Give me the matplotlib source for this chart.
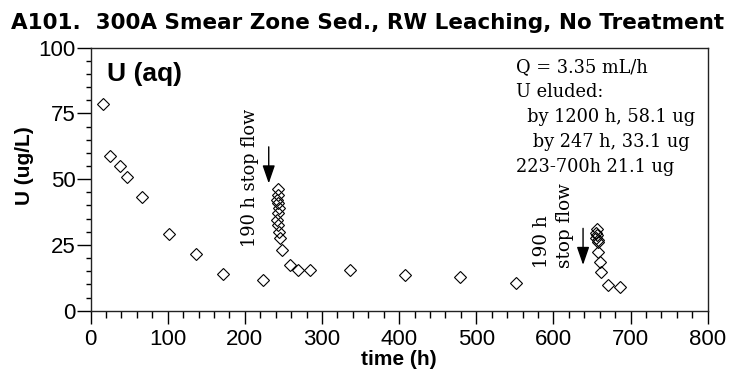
import matplotlib
matplotlib.use("Agg")
import matplotlib.pyplot as plt
from matplotlib.ticker import MultipleLocator

# Column effluent U concentration vs. elapsed time
time_h = [15.8, 25.3, 38.2, 47.7, 67.1, 101.7, 136.5, 171.5, 224.0,
          243.3, 242.5, 241.2, 242.5, 244.2, 242.5, 241.2, 243.3, 244.2, 245.5, 247.7,
          258.4, 269.2, 284.3, 336.0, 407.0, 479.0, 552.0,
          656.5, 655.5, 657.0, 655.5, 657.5, 658.0, 658.0, 660.0, 661.5, 671.0, 686.0]
u_ugL = [78.5, 58.8, 55.0, 51.0, 43.1, 29.0, 21.7, 13.8, 11.7,
         46.2, 44.0, 42.1, 40.8, 38.9, 37.0, 34.5, 32.6, 30.0, 27.5, 23.1,
         17.4, 15.5, 15.5, 15.3, 13.5, 12.8, 10.4,
         30.9, 29.5, 28.6, 27.8, 27.0, 26.2, 22.4, 18.6, 14.6, 9.9, 9.0]

# Stop-flow events: (arrow x, arrow tail y, arrow head y)
stop_flow_arrows = [(231, 62.3, 48.4), (638.4, 31.3, 17.4)]

title = "A101.  300A Smear Zone Sed., RW Leaching, No Treatment"
note_lines = ["Q = 3.35 mL/h", "U eluded:", "  by 1200 h, 58.1 ug",
              "   by 247 h, 33.1 ug", "223-700h 21.1 ug"]

sans = "Liberation Sans"
serif = "DejaVu Serif"

fig = plt.figure(figsize=(7.37, 3.75), dpi=100)
ax = fig.add_axes([0.1228, 0.1715, 0.8375, 0.7013])

ax.plot(time_h, u_ugL, linestyle="none", marker="D", markersize=6.2,
        markerfacecolor="none", markeredgecolor="black", markeredgewidth=0.8)

ax.set_xlim(0, 800)
ax.set_ylim(0, 100)
ax.xaxis.set_major_locator(MultipleLocator(100))
ax.xaxis.set_minor_locator(MultipleLocator(20))
ax.yaxis.set_major_locator(MultipleLocator(25))
ax.yaxis.set_minor_locator(MultipleLocator(5))

ax.tick_params(axis="x", which="major", direction="out", length=9, width=1, pad=4)
ax.tick_params(axis="x", which="minor", direction="out", length=4.8, width=1)
ax.tick_params(axis="y", which="major", direction="out", length=10, width=1, pad=0.5)
ax.tick_params(axis="y", which="minor", direction="out", length=3.8, width=1)
for lab in ax.get_xticklabels() + ax.get_yticklabels():
    lab.set_fontfamily(sans)
    lab.set_fontsize(16)
for sp in ax.spines.values():
    sp.set_linewidth(1.0)
    sp.set_color("#222222")

ax.set_xlabel("time (h)", fontfamily=sans, fontweight="bold", fontsize=15, labelpad=0)
ax.set_ylabel("U (ug/L)", fontfamily=sans, fontweight="bold", fontsize=15)
ax.yaxis.set_label_coords(-0.092, 0.55)

fig.text(10.7 / 737, 1 - 29.3 / 375, title, fontfamily="DejaVu Sans",
         fontweight="bold", fontsize=15.5, va="baseline", ha="left")

ax.text(21, 94.5, "U (aq)", fontfamily=sans, fontweight="bold", fontsize=19,
        ha="left", va="top")

ax.text(551, 96, "\n".join(note_lines), fontfamily=serif, fontsize=12.8,
        ha="left", va="top", linespacing=1.5)

for x, y0, y1 in stop_flow_arrows:
    ax.annotate("", xy=(x, y1), xytext=(x, y0),
                arrowprops=dict(arrowstyle="-|>,head_length=1.1,head_width=0.38",
                                color="black", lw=1.0, shrinkA=0, shrinkB=0))

ax.text(206.6, 50.6, "190 h stop flow", fontfamily=serif, fontsize=12.8,
        rotation=90, ha="center", va="center")
ax.text(600, 16.2, "190 h\nstop flow", fontfamily=serif, fontsize=13.2,
        rotation=90, ha="center", va="bottom", multialignment="left",
        linespacing=1.35)

fig.savefig("out.png", dpi=100)
